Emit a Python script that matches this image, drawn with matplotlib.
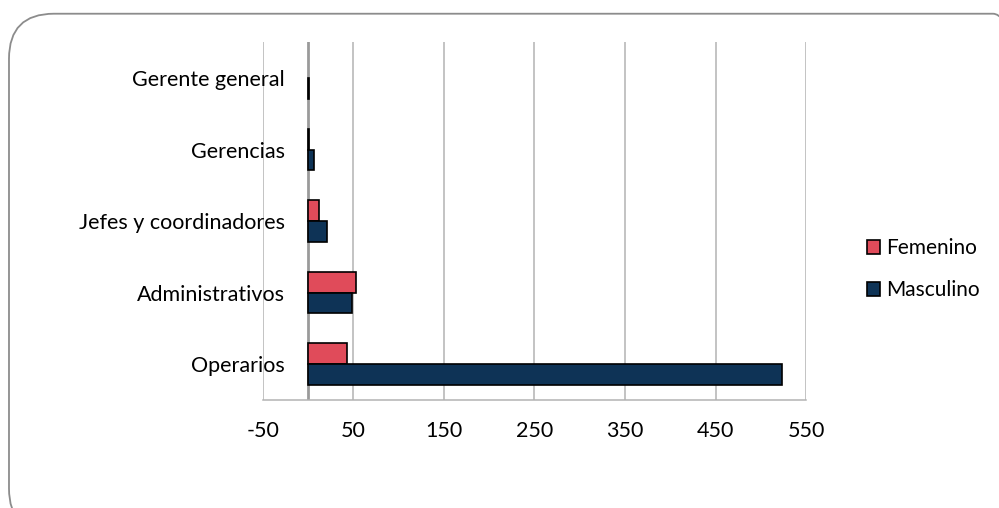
import matplotlib.pyplot as plt
import numpy as np
from matplotlib.patches import FancyBboxPatch, Patch

categories = ["Operarios", "Administrativos", "Jefes y coordinadores", "Gerencias", "Gerente general"]
femenino = [43, 53, 12, 1, 0]
masculino = [523, 48, 21, 7, 1]
xticks = [-50, 50, 150, 250, 350, 450, 550]

col_fem = "#E04B5A"
col_mas = "#0E3356"
plt.rcParams["font.family"] = ["Lato", "DejaVu Sans"]
plt.rcParams["axes.unicode_minus"] = False

fig = plt.figure(figsize=(9.99, 5.08), dpi=100)
ax = fig.add_axes([0.263, 0.2126, 0.544, 0.7044])

# rounded chart border (right and bottom edges fall outside the image)
border = FancyBboxPatch((0.009, -0.05), 1.03, 1.023, boxstyle="round,pad=0,rounding_size=0.045",
                        transform=fig.transFigure, fill=False, edgecolor="#8c8c8c", linewidth=1.3,
                        mutation_aspect=1.97, clip_on=False)
fig.patches.append(border)

y = np.arange(len(categories))
h = 0.29
lw_f = [1.2 if v > 0 else 0 for v in femenino]
ax.barh(y + h / 2, femenino, height=h, color=col_fem, edgecolor="black", linewidth=lw_f, zorder=3)
ax.barh(y - h / 2, masculino, height=h, color=col_mas, edgecolor="black", linewidth=1.2, zorder=3)

ax.set_xlim(-50, 550)
ax.set_ylim(-0.5, 4.5)
ax.set_xticks(xticks)
ax.set_yticks(y)
ax.set_yticklabels(categories)
ax.tick_params(axis="both", length=0, labelsize=15.5, colors="black")
ax.tick_params(axis="y", pad=-16)
ax.tick_params(axis="x", pad=15)
ax.grid(axis="x", color="#b3b3b3", linewidth=1.1, zorder=0)
ax.axvline(0, color="#9a9a9a", linewidth=2, zorder=2)
for s in ["top", "right", "left"]:
    ax.spines[s].set_visible(False)
ax.spines["bottom"].set_color("#b3b3b3")
ax.spines["bottom"].set_linewidth(1.1)

handles = [Patch(facecolor=col_fem, edgecolor="black", linewidth=1.2, label="Femenino"),
           Patch(facecolor=col_mas, edgecolor="black", linewidth=1.2, label="Masculino")]
fig.legend(handles=handles, loc="center left", bbox_to_anchor=(0.849, 0.47), frameon=False,
           fontsize=15, handlelength=0.65, handleheight=0.65, handletextpad=0.25, labelspacing=1.05)

fig.savefig("out.png", dpi=100, facecolor="white")
